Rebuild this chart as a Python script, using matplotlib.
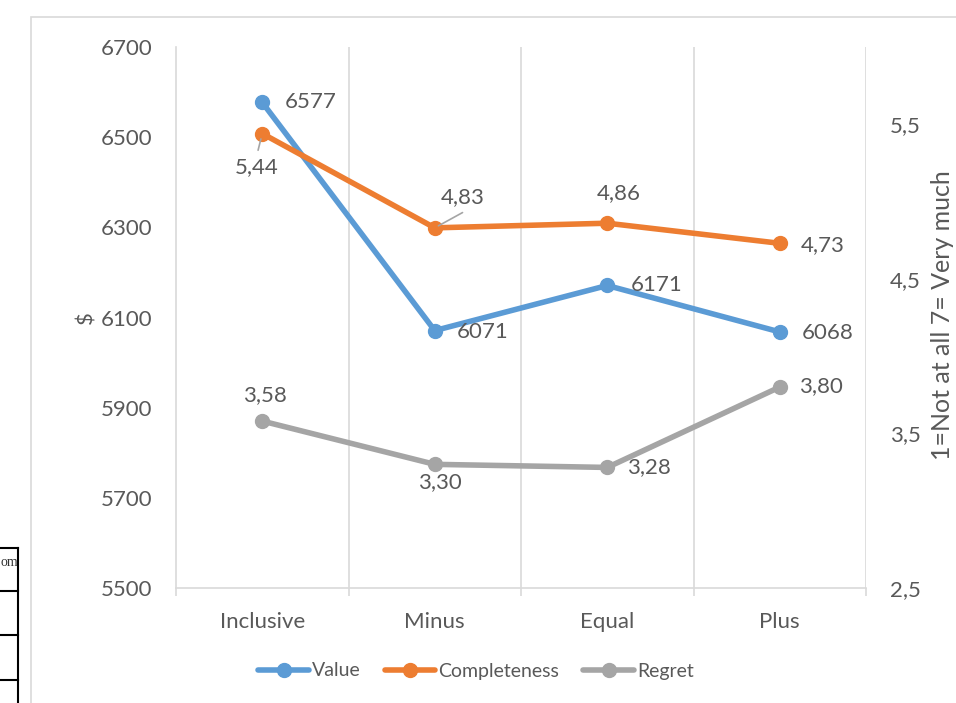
import matplotlib
matplotlib.use("Agg")
import matplotlib.pyplot as plt
from matplotlib.lines import Line2D
from matplotlib.patches import Rectangle

categories = ["Inclusive", "Minus", "Equal", "Plus"]
value = [6577, 6071, 6171, 6068]
completeness = [5.44, 4.83, 4.86, 4.73]
regret = [3.58, 3.30, 3.28, 3.80]
left_ticks = [5500, 5700, 5900, 6100, 6300, 6500, 6700]
right_ticks = [2.5, 3.5, 4.5, 5.5]

BLUE = "#5B9BD5"
ORANGE = "#ED7D31"
GRAY = "#A5A5A5"
TXT = "#595959"
GRID = "#D9D9D9"
FONT = "Lato"
FS = 16

plt.rcParams["font.family"] = [FONT, "DejaVu Sans"]

fig = plt.figure(figsize=(9.56, 7.03), dpi=100)
W, H = 956, 703


def fx(px):
    return px / W


def fy(py):
    return 1 - py / H


# chart frame
fig.patches.append(Rectangle((fx(31), fy(760)), fx(1000), fy(17) - fy(760),
                             transform=fig.transFigure, fill=False,
                             edgecolor=GRID, lw=1.2, zorder=0))

# fragment of a neighbouring table at the left edge
fig.add_artist(Line2D([fx(18), fx(18)], [fy(548), fy(703)], transform=fig.transFigure,
                      color="black", lw=1.5))
for yy in [548, 591, 635, 680]:
    fig.add_artist(Line2D([fx(0), fx(18)], [fy(yy), fy(yy)], transform=fig.transFigure,
                          color="black", lw=1.5))
fig.text(fx(0.5), fy(562), "om", family="Liberation Serif", fontsize=10, color="#333333",
         va="center", ha="left")

ax = fig.add_axes([fx(176), fy(588), fx(866) - fx(176), fy(47) - fy(588)])
ax2 = ax.twinx()

x = list(range(len(categories)))
ax.set_xlim(-0.5, len(categories) - 0.5)
ax.set_ylim(5500, 6700)
ax2.set_ylim(2.5, 6.0)

for s in ["top", "right"]:
    ax.spines[s].set_visible(False)
    ax2.spines[s].set_visible(False)
ax2.spines["left"].set_visible(False)
ax2.spines["bottom"].set_visible(False)
ax.spines["left"].set_color(GRID)
ax.spines["bottom"].set_color(GRID)
ax.spines["left"].set_linewidth(1.2)
ax.spines["bottom"].set_linewidth(1.2)

# vertical gridlines at category boundaries
for b in [0.5, 1.5, 2.5, 3.5]:
    ax.axvline(b, color=GRID, lw=1.2, zorder=0)

ax.set_xticks([b - 0.5 for b in range(len(categories) + 1)], minor=False)
ax.set_xticklabels([])
ax.tick_params(axis="x", which="major", length=6, color=GRID, width=1.2)
ax.set_xticks(x, minor=True)
ax.set_xticklabels(categories, minor=True)
ax.tick_params(axis="x", which="minor", length=0, pad=17, labelsize=FS, labelcolor=TXT)

ax.set_yticks(left_ticks)
ax.set_yticklabels([str(t) for t in left_ticks])
ax.tick_params(axis="y", length=0, pad=17, labelsize=FS, labelcolor=TXT)
ax2.set_yticks(right_ticks)
ax2.set_yticklabels([f"{t:.1f}".replace(".", ",") for t in right_ticks])
ax2.tick_params(axis="y", length=0, pad=17, labelsize=FS, labelcolor=TXT)

fig.text(fx(86), fy(318), "$", rotation=90, fontsize=FS, color=TXT,
         ha="center", va="center")
fig.text(fx(943), fy(315), "1=Not at all 7= Very much", rotation=90, fontsize=18,
         color=TXT, ha="center", va="center")

lkw = dict(lw=4, marker="o", markersize=10, solid_capstyle="round")
lv, = ax.plot(x, value, color=BLUE, zorder=3, **lkw)
lc, = ax2.plot(x, completeness, color=ORANGE, zorder=3, **lkw)
lr, = ax2.plot(x, regret, color=GRAY, zorder=3, **lkw)

def fmt(v):
    return f"{v:.2f}".replace(".", ",")

tk = dict(fontsize=FS, color=TXT, va="center")
# Value labels
offs_v = [(16, 0), (16, -1), (17, 0), (16, -1)]
for i, v in enumerate(value):
    ax.annotate(str(v), (x[i], v), xytext=offs_v[i], textcoords="offset points",
                ha="left", **tk)
# Completeness labels
offs_c = [(-4, -24), (20, 22), (8, 22), (15, -1)]
has_ha = ["center", "center", "center", "left"]
for i, v in enumerate(completeness):
    ax2.annotate(fmt(v), (x[i], v), xytext=offs_c[i], textcoords="offset points",
                 ha=has_ha[i], **tk)
# leader lines
ax2.annotate("", (x[0], completeness[0]), xytext=(-3, -12), textcoords="offset points",
             arrowprops=dict(arrowstyle="-", color=GRAY, lw=1.2, shrinkA=0, shrinkB=4))
ax2.annotate("", (x[1], completeness[1]), xytext=(20, 11), textcoords="offset points",
             arrowprops=dict(arrowstyle="-", color=GRAY, lw=1.2, shrinkA=0, shrinkB=3))
# Regret labels
offs_r = [(2, 19), (4, -13), (14, 0), (14, 1)]
ha_r = ["center", "center", "left", "left"]
for i, v in enumerate(regret):
    ax2.annotate(fmt(v), (x[i], v), xytext=offs_r[i], textcoords="offset points",
                 ha=ha_r[i], **tk)

leg = fig.legend([lv, lc, lr], ["Value", "Completeness", "Regret"], loc="center",
                 bbox_to_anchor=(fx(476), fy(671)), ncol=3, frameon=False,
                 fontsize=14, labelcolor=TXT, handlelength=2.6, handletextpad=0.15,
                 columnspacing=1.25)

fig.savefig("out.png", dpi=100)
